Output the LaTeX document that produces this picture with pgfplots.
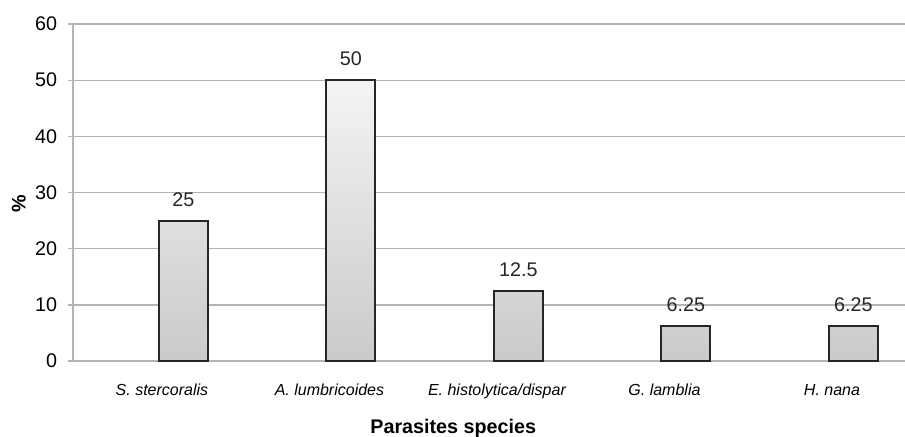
\documentclass[border=0pt]{standalone}
\usepackage{fontspec}
\setmainfont{Liberation Sans}
\usepackage{pgfplots}
\pgfplotsset{compat=1.18}
\definecolor{gridgray}{HTML}{B4B4B4}
\definecolor{barline}{HTML}{262626}
\definecolor{bartop}{HTML}{F4F4F4}
\definecolor{barbottom}{HTML}{CACACA}
\newcommand{\bigfont}{\fontsize{14.8}{17.8}\selectfont}
\newcommand{\catfont}{\fontsize{12}{14.4}\selectfont}
\begin{document}
\begin{tikzpicture}
\path[use as bounding box] (0,0) rectangle (678.75pt,327pt);
\begin{axis}[
  at={(54.75pt,56.25pt)}, anchor=south west,
  scale only axis, width=624pt, height=252.75pt,
  ymin=0, ymax=60, ytick={0,10,...,60},
  xmin=-0.531, xmax=4.436,
  xtick={0,...,4},
  xticklabels={S. stercoralis, A. lumbricoides, E. histolytica/dispar, G. lamblia, H. nana},
  axis x line*=bottom, axis y line*=left,
  axis line style={gridgray, line width=1pt},
  ymajorgrids, major grid style={gridgray, line width=1pt},
  ytick style={gridgray, line width=1pt},
  xtick style={draw=none},
  tick align=outside, major tick length=3.75pt,
  /pgf/number format/assume math mode=true,
  yticklabel style={font=\bigfont, anchor=east, inner sep=0pt, xshift=-8pt},
  xticklabel style={font=\catfont\itshape, anchor=north, inner sep=0pt, yshift=-13.5pt},
  xlabel={Parasites species},
  xlabel style={font=\bigfont\bfseries, at={(axis description cs:0.457,0)}, anchor=north, inner sep=0pt, yshift=-43.5pt},
  ylabel={\%},
  ylabel style={font=\bigfont\bfseries, at={(axis description cs:-0.065,0.466)}, anchor=center, inner sep=0pt},
  clip=false,
]
\addplot[ybar, bar width=36.75pt, bar shift=16.1pt,
  draw=barline, line width=1.5pt,
  top color=bartop, bottom color=barbottom,
  nodes near coords,
  every node near coord/.append style={font=\bigfont, anchor=south, inner sep=0pt, xshift=16.1pt, yshift=10pt, text=black!85}]
coordinates {(0,25) (1,50) (2,12.5) (3,6.25) (4,6.25)};
\end{axis}
\end{tikzpicture}
\end{document}
